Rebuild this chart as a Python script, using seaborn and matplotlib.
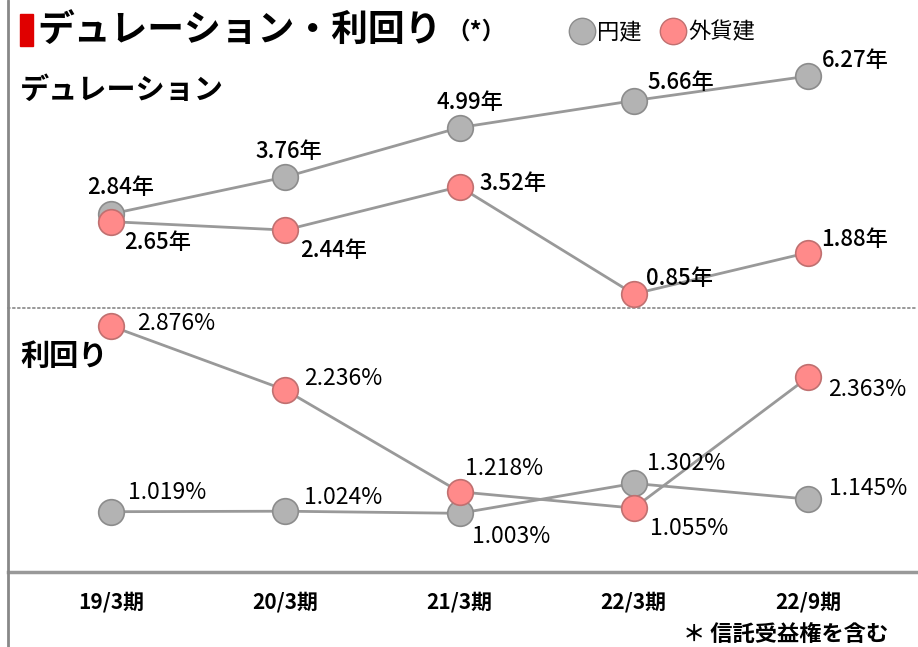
import matplotlib
matplotlib.use("Agg")
import matplotlib.pyplot as plt
from matplotlib.lines import Line2D
import seaborn as sns
import pandas as pd

sns.set_theme(style="white")
plt.rcParams['font.family'] = ['Noto Sans CJK JP', 'DejaVu Sans']
plt.rcParams['text.color'] = 'black'
plt.rcParams['xtick.color'] = 'black'

periods = ["19/3期", "20/3期", "21/3期", "22/3期", "22/9期"]
dur_yen = [2.84, 3.76, 4.99, 5.66, 6.27]
dur_fx = [2.65, 2.44, 3.52, 0.85, 1.88]
yld_yen = [1.019, 1.024, 1.003, 1.302, 1.145]
yld_fx = [2.876, 2.236, 1.218, 1.055, 2.363]

GRAY_FILL = "#b3b3b3"
GRAY_EDGE = "#8c8c8c"
PINK_FILL = "#ff8a8a"
PINK_EDGE = "#c07070"
LINE = "#999999"

W, H = 918, 647
fig = plt.figure(figsize=(W / 100, H / 100), dpi=100)

def px_axes(x0, y0, x1, y1):
    return fig.add_axes([x0 / W, (H - y1) / H, (x1 - x0) / W, (y1 - y0) / H])

ax_top = px_axes(8, 0, 918, 308)
ax_bot = px_axes(8, 309, 918, 572)

def draw(ax, yen, fx, fmt, yen_off, fx_off, weight, size):
    idx = list(range(len(periods)))
    df = pd.DataFrame({
        "x": idx * 2,
        "v": yen + fx,
        "s": ["円建"] * len(yen) + ["外貨建"] * len(fx),
    })
    sns.lineplot(data=df, x="x", y="v", hue="s", palette=[LINE, LINE],
                 linewidth=2, legend=False, ax=ax, zorder=2)
    sns.scatterplot(x=idx, y=yen, color=GRAY_FILL, edgecolor=GRAY_EDGE,
                    linewidth=1.2, s=340, ax=ax, zorder=3)
    sns.scatterplot(x=idx, y=fx, color=PINK_FILL, edgecolor=PINK_EDGE,
                    linewidth=1.2, s=340, ax=ax, zorder=3)
    for vals, offs in ((yen, yen_off), (fx, fx_off)):
        for i, (v, o) in enumerate(zip(vals, offs)):
            ax.annotate(fmt(v), (i, v), xytext=o, textcoords="offset pixels",
                        ha="center", va="center", fontsize=size,
                        fontweight=weight, color="black", zorder=4)
    ax.set_xlim(-0.591, 4.631)
    ax.set_xlabel("")
    ax.set_ylabel("")
    ax.set_yticks([])
    for sp in ("top", "right"):
        ax.spines[sp].set_visible(False)
    ax.spines["left"].set_visible(False)

# label offsets in pixels (dx, dy up) from each marker
draw(ax_top, dur_yen, dur_fx, lambda v: f"{v:.2f}年",
     [(10, 27), (4, 26), (10, 25), (47, 18), (47, 16)],
     [(47, -21), (48, -20), (53, 3), (46, 16), (47, 13)], "medium", 16)
draw(ax_bot, yld_yen, yld_fx, lambda v: f"{v:.3f}%",
     [(56, 19), (58, 14), (52, -23), (52, 20), (60, 11)],
     [(65, 2), (58, 11), (45, 23), (55, -20), (59, -12)], "normal", 16.5)

ax_top.set_ylim(0.502, 8.163)
ax_bot.set_ylim(0.416, 3.046)

ax_top.set_xticks([])
ax_top.spines["bottom"].set_linestyle((0, (1, 2)))
ax_top.spines["bottom"].set_color("#888888")
ax_top.spines["bottom"].set_linewidth(1.2)

ax_bot.set_xticks(range(len(periods)))
ax_bot.set_xticklabels(periods, fontsize=15, fontweight="bold")
ax_bot.tick_params(axis="x", length=0, pad=14)
ax_bot.spines["bottom"].set_color("#999999")
ax_bot.spines["bottom"].set_linewidth(2.5)

# left frame line
fig.add_artist(Line2D([8 / W, 8 / W], [0, 1], color="#888888", lw=2,
                      transform=fig.transFigure))

# title
fig.patches.append(plt.Rectangle((20 / W, 1 - 46 / H), 13 / W, 32 / H,
                                 color="#e00000", transform=fig.transFigure))
fig.text(37 / W, 1 - 30 / H, "デュレーション・利回り", fontsize=26.5,
         fontweight="bold", va="center", ha="left")
fig.text(446 / W, 1 - 32 / H, "（*）", fontsize=17, fontweight="bold",
         va="center", ha="left")
fig.text(20 / W, 1 - 90 / H, "デュレーション", fontsize=21,
         fontweight="bold", va="center", ha="left")
fig.text(20 / W, 1 - 356 / H, "利回り", fontsize=21,
         fontweight="bold", va="center", ha="left")
fig.text(888 / W, 1 - 634 / H, "＊ 信託受益権を含む", fontsize=16,
         fontweight="bold", va="center", ha="right")

handles = [
    Line2D([], [], marker="o", ls="", markersize=19, markerfacecolor=GRAY_FILL,
           markeredgecolor=GRAY_EDGE, label="円建"),
    Line2D([], [], marker="o", ls="", markersize=19, markerfacecolor=PINK_FILL,
           markeredgecolor=PINK_EDGE, label="外貨建"),
]
fig.legend(handles=handles, loc="center left", bbox_to_anchor=(559 / W, 1 - 32 / H),
           ncol=2, frameon=False, fontsize=16, handletextpad=0.1,
           columnspacing=0.9, borderpad=0, handlelength=1.1)

fig.savefig("out.png", dpi=100)
